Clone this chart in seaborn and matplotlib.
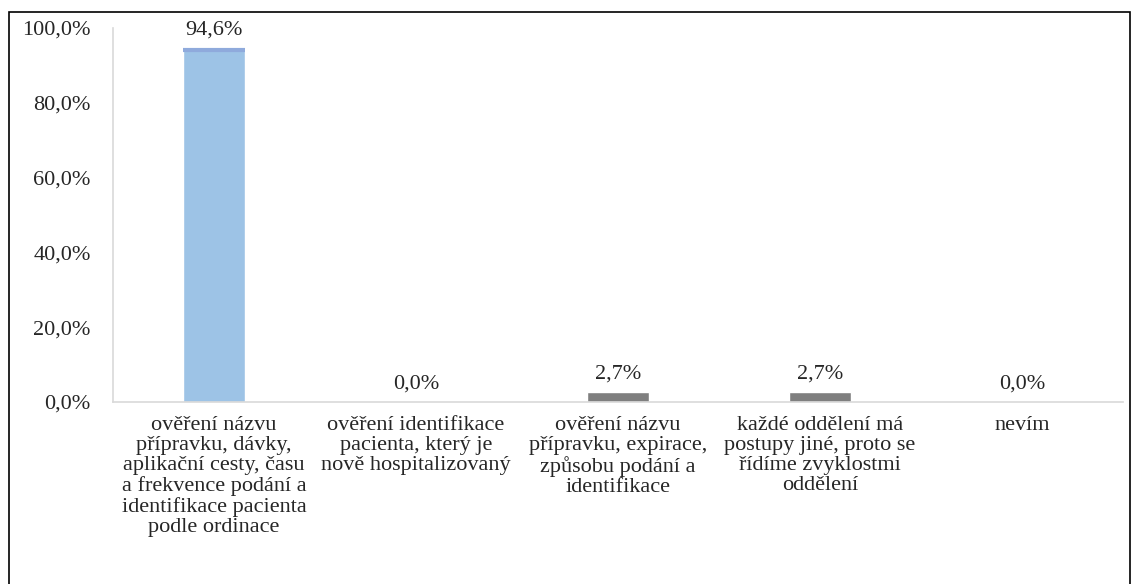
import matplotlib
matplotlib.use("Agg")
import matplotlib.pyplot as plt
import seaborn as sns
import pandas as pd
from matplotlib.patches import Rectangle

categories = [
    "ověření názvu\npřípravku, dávky,\naplikační cesty, času\na frekvence podání a\nidentifikace pacienta\npodle ordinace",
    "ověření identifikace\npacienta, který je\nnově hospitalizovaný",
    "ověření názvu\npřípravku, expirace,\nzpůsobu podání a\nidentifikace",
    "každé oddělení má\npostupy jiné, proto se\nřídíme zvyklostmi\noddělení",
    "nevím",
]
values = [94.6, 0.0, 2.7, 2.7, 0.0]
bar_colors = ["#9DC3E6", "#7F7F7F", "#7F7F7F", "#7F7F7F", "#7F7F7F"]

df = pd.DataFrame({"kategorie": categories, "podil": values})

sns.set_style("white")
plt.rcParams["font.family"] = ["Liberation Serif", "DejaVu Serif"]

fig = plt.figure(figsize=(11.33, 5.84), dpi=100)
ax = fig.add_axes([0.0997, 0.3116, 0.8913, 0.6404])

sns.barplot(data=df, x="kategorie", y="podil", hue="kategorie",
            palette=bar_colors, legend=False, width=0.31, ax=ax, saturation=1)

# darker top strip on the blue bar
first = ax.patches[0]
ax.plot([first.get_x(), first.get_x() + first.get_width()],
        [first.get_height() - 0.45] * 2, color="#8FAADC", lw=3,
        solid_capstyle="butt", zorder=3)

labels = [f"{v:.1f}%".replace(".", ",") for v in values]
for cont, lab in zip(ax.containers, labels):
    ax.bar_label(cont, labels=[lab], padding=6, fontsize=16)

ax.set_ylim(0, 100)
ax.set_xlim(-0.5, 4.5)
ticks = [0, 20, 40, 60, 80, 100]
ax.set_yticks(ticks)
ax.set_yticklabels([f"{t:.1f}%".replace(".", ",") for t in ticks], fontsize=16)
ax.tick_params(axis="y", length=0, pad=16)
ax.tick_params(axis="x", length=0, pad=10, labelsize=16)
ax.set_xlabel("")
ax.set_ylabel("")
for lab in ax.get_xticklabels():
    lab.set_linespacing(1.07)

for s in ["top", "right"]:
    ax.spines[s].set_visible(False)
for s in ["left", "bottom"]:
    ax.spines[s].set_color("#D9D9D9")
    ax.spines[s].set_linewidth(1.2)

fig.patches.append(Rectangle((9 / 1133, -0.01), 1121 / 1133, 1 - 12 / 584 + 0.01,
                             transform=fig.transFigure, fill=False,
                             edgecolor="black", linewidth=1.2))

fig.savefig("out.png", dpi=100)
